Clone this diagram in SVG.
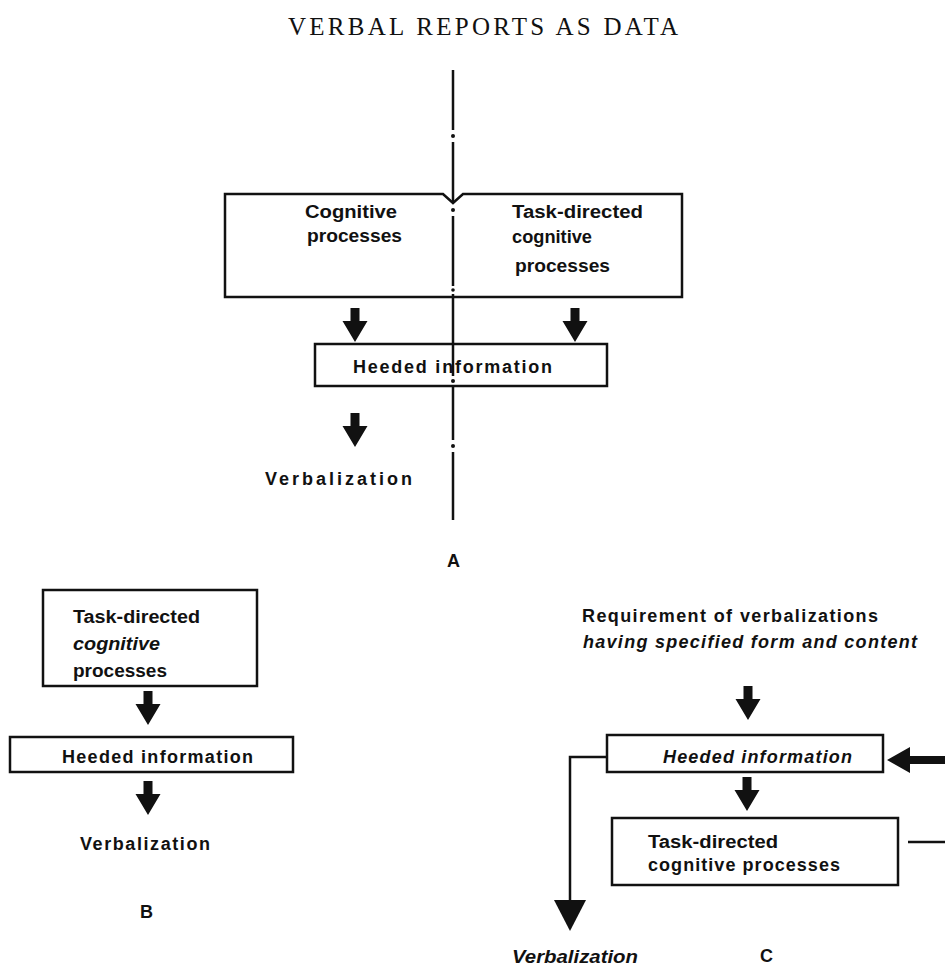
<svg xmlns="http://www.w3.org/2000/svg" width="945" height="970" viewBox="0 0 945 970">
<style>
.bx{fill:none;stroke:#111;stroke-width:2.5}
.ln{fill:none;stroke:#111;stroke-width:2.5}
.t{font-family:"Liberation Sans",Arial,sans-serif;font-weight:bold;font-size:18px;fill:#111}
.i{font-style:italic}
.title{font-family:"Liberation Serif","Times New Roman",serif;font-size:25px;fill:#111}
.ar{fill:#111}
</style>
<defs>
<path id="dn" d="M-4.5,0 H4.5 V13 H12.5 L0,34 L-12.5,13 H-4.5 Z"/>
</defs>
<rect width="945" height="970" fill="#fff"/>
<text class="title" x="288" y="35" textLength="390" lengthAdjust="spacing">VERBAL REPORTS AS DATA</text>

<g id="axis">
<path class="ln" d="M453,70 V130 M453,142 V203 M453,216 V286 M453,294 V376 M453,386 V440 M453,452 V520"/>
<circle cx="453" cy="136" r="2" fill="#111"/>
<circle cx="453" cy="210" r="2" fill="#111"/>
<circle cx="453" cy="290" r="1.8" fill="#111"/>
<circle cx="453" cy="381" r="2" fill="#111"/>
<circle cx="453" cy="446" r="2" fill="#111"/>
</g>

<g id="A-processes">
<path class="bx" d="M225,194 H443 L453,203 L463,194 H682 V297 H225 Z"/>
<text class="t" x="305" y="218" textLength="92" lengthAdjust="spacingAndGlyphs">Cognitive</text>
<text class="t" x="307" y="242" textLength="95" lengthAdjust="spacingAndGlyphs">processes</text>
<text class="t" x="512" y="218" textLength="131" lengthAdjust="spacingAndGlyphs">Task-directed</text>
<text class="t" x="512" y="243" textLength="80" lengthAdjust="spacingAndGlyphs">cognitive</text>
<text class="t" x="515" y="272" textLength="95" lengthAdjust="spacingAndGlyphs">processes</text>
</g>
<g id="A-heeded">
<rect class="bx" x="315" y="344" width="292" height="42"/>
<text class="t" x="353" y="373" textLength="199" lengthAdjust="spacing">Heeded information</text>
</g>
<g id="A-verbalization">
<text class="t" x="265" y="485" textLength="147" lengthAdjust="spacing">Verbalization</text>
</g>
<text class="t" x="447" y="567">A</text>

<g id="B-processes">
<rect class="bx" x="43" y="590" width="214" height="96"/>
<text class="t" x="73" y="623" textLength="127" lengthAdjust="spacingAndGlyphs">Task-directed</text>
<text class="t i" x="73" y="650" textLength="87" lengthAdjust="spacingAndGlyphs">cognitive</text>
<text class="t" x="73" y="677" textLength="94" lengthAdjust="spacingAndGlyphs">processes</text>
</g>
<g id="B-heeded">
<rect class="bx" x="10" y="737" width="283" height="35"/>
<text class="t" x="62" y="763" textLength="191" lengthAdjust="spacing">Heeded information</text>
</g>
<g id="B-verbalization">
<text class="t" x="80" y="850" textLength="130" lengthAdjust="spacing">Verbalization</text>
</g>
<text class="t" x="140" y="918">B</text>

<g id="C-requirement">
<text class="t" x="582" y="622" textLength="296" lengthAdjust="spacing">Requirement of verbalizations</text>
<text class="t i" x="583" y="648" textLength="334" lengthAdjust="spacing">having specified form and content</text>
</g>
<g id="C-heeded">
<rect class="bx" x="607" y="735" width="276" height="37"/>
<text class="t i" x="663" y="763" textLength="189" lengthAdjust="spacing">Heeded information</text>
</g>
<g id="C-processes">
<rect class="bx" x="612" y="818" width="286" height="67"/>
<text class="t" x="648" y="848" textLength="130" lengthAdjust="spacingAndGlyphs">Task-directed</text>
<text class="t" x="648" y="871" textLength="192" lengthAdjust="spacing">cognitive processes</text>
</g>
<g id="C-verbalization">
<text class="t i" x="512" y="963" textLength="126" lengthAdjust="spacingAndGlyphs">Verbalization</text>
</g>
<text class="t" x="760" y="962">C</text>

<g id="connectors">
<use href="#dn" class="ar" x="355" y="308"/>
<use href="#dn" class="ar" x="575" y="308"/>
<use href="#dn" class="ar" x="355" y="413"/>
<use href="#dn" class="ar" x="148" y="691"/>
<use href="#dn" class="ar" x="148" y="781"/>
<use href="#dn" class="ar" x="748" y="686"/>
<use href="#dn" class="ar" x="747" y="777"/>
<path class="ln" d="M607,757 H570 V902" stroke-width="3.5"/>
<path class="ar" d="M554,900 H586 L570,931 Z"/>
<path class="ar" d="M945,756 H910 V747 L887,760 L910,773 V764 H945 Z"/>
<path class="ln" d="M908,842 H945" stroke-width="5"/>
</g>
</svg>
